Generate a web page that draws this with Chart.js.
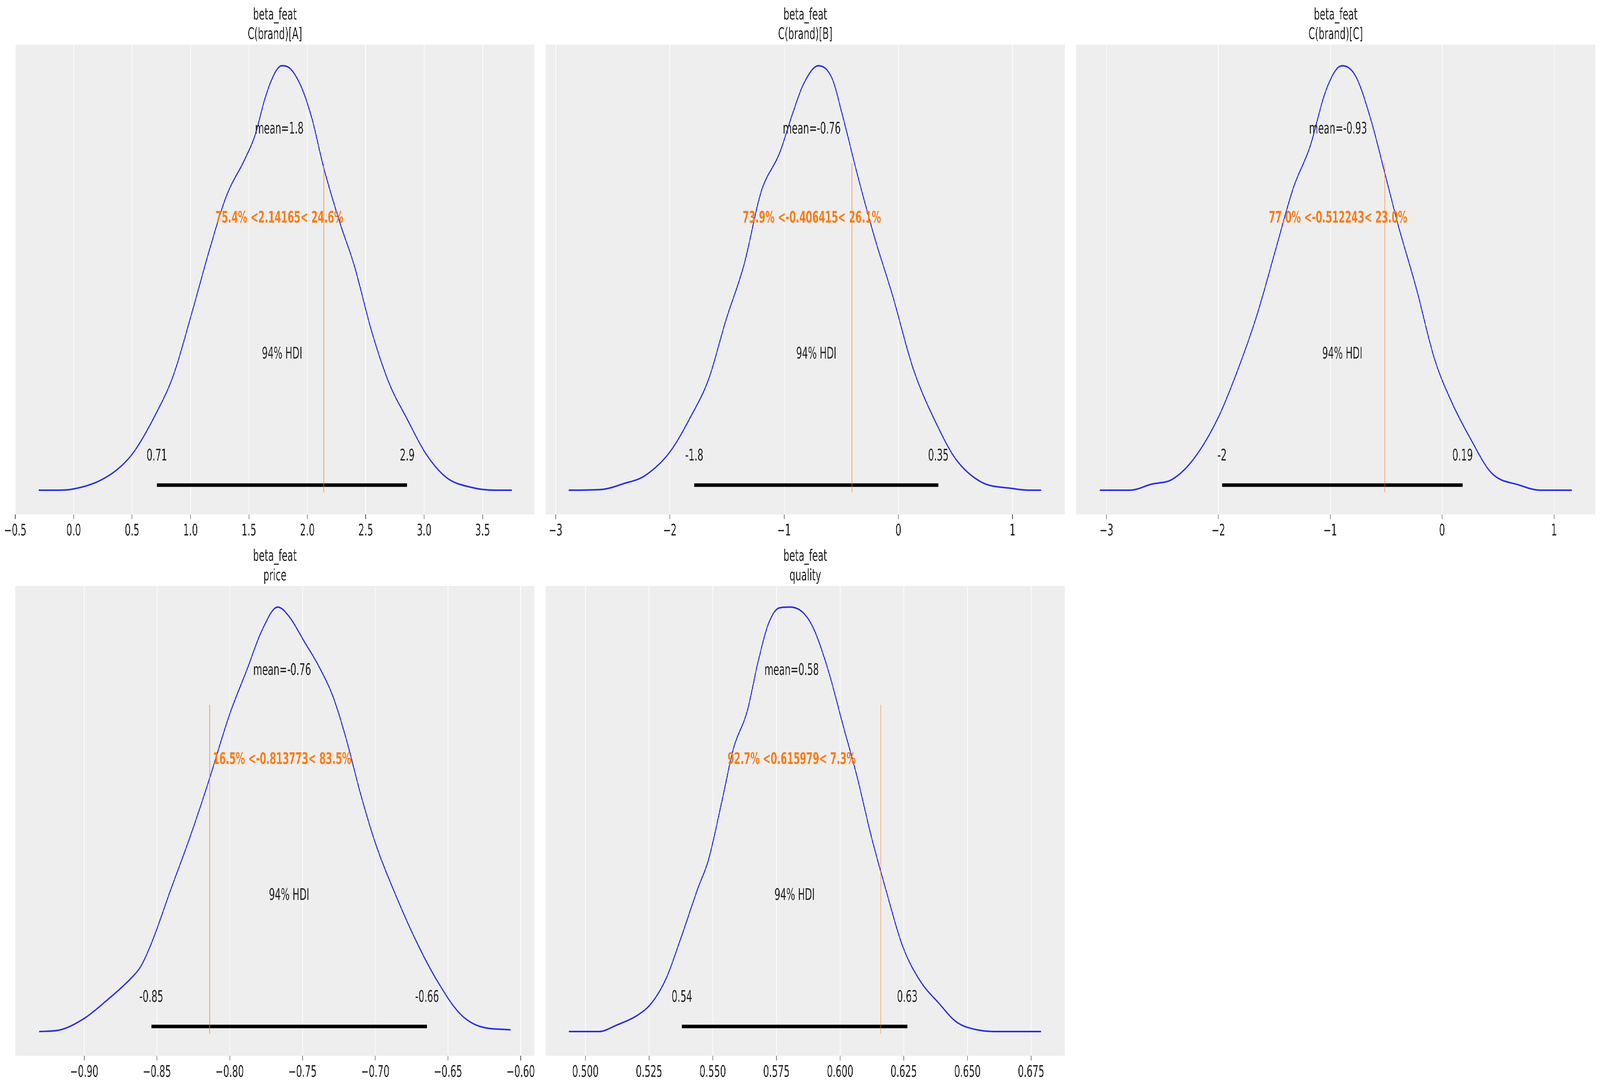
<!DOCTYPE html>
<html>
<head>
<meta charset="utf-8">
<script src="https://cdn.jsdelivr.net/npm/chart.js@4.4.1/dist/chart.umd.min.js"></script>
<style>
  html, body { margin: 0; background: #fff; overflow: hidden; }
  #fig { position: absolute; left: 0; top: 0; width: 6923px; height: 2783px; transform-origin: 0 0; }
  canvas { position: absolute; }
</style>
</head>
<body>
<div id="fig"></div>
<script>
// Panel titles
const varName = 'beta_feat';
const coords = ['C(brand)[A]', 'C(brand)[B]', 'C(brand)[C]', 'price', 'quality'];

// KDE curves (x value, relative density)
const kdeAx = [-0.30,-0.13,0.00,0.22,0.40,0.52,0.70,0.85,1.01,1.16,1.31,1.46,1.55,1.64,1.72,1.78,1.85,1.95,2.04,2.14,2.28,2.40,2.55,2.70,2.85,3.01,3.19,3.40,3.61,3.75];
const kdeAy = [0,0,0.003,0.022,0.055,0.092,0.178,0.268,0.416,0.564,0.695,0.777,0.834,0.925,0.982,1.0,0.994,0.949,0.875,0.760,0.629,0.531,0.375,0.252,0.170,0.088,0.030,0.007,0,0];
const kdeBx = [-2.885,-2.59,-2.41,-2.22,-2.0,-1.82,-1.66,-1.51,-1.35,-1.20,-1.04,-0.92,-0.83,-0.70,-0.58,-0.49,-0.36,-0.21,-0.05,0.13,0.35,0.50,0.72,1.0,1.15,1.25];
const kdeBy = [0,0.002,0.015,0.034,0.09,0.172,0.262,0.40,0.532,0.704,0.794,0.892,0.957,1.0,0.970,0.884,0.745,0.597,0.458,0.286,0.147,0.074,0.02,0.004,0,0];
const kdeCx = [-3.06,-2.79,-2.60,-2.41,-2.22,-2.0,-1.81,-1.65,-1.49,-1.33,-1.18,-1.05,-0.95,-0.89,-0.77,-0.64,-0.51,-0.39,-0.23,-0.07,0.09,0.25,0.44,0.69,0.88,1.01,1.16];
const kdeCy = [0,0,0.014,0.026,0.074,0.172,0.295,0.417,0.565,0.712,0.81,0.933,0.99,1.0,0.974,0.876,0.745,0.622,0.475,0.311,0.205,0.123,0.041,0.012,0,0,0];
const kdePx = [-0.931,-0.9165,-0.900,-0.885,-0.868,-0.861,-0.853,-0.841,-0.827,-0.815,-0.800,-0.788,-0.778,-0.767,-0.759,-0.749,-0.739,-0.729,-0.720,-0.710,-0.700,-0.686,-0.671,-0.657,-0.642,-0.628,-0.607];
const kdePy = [0,0.004,0.031,0.072,0.125,0.154,0.215,0.33,0.461,0.584,0.748,0.854,0.944,1.0,0.977,0.92,0.862,0.789,0.69,0.559,0.445,0.322,0.207,0.117,0.043,0.012,0.004];
const kdeQx = [0.4935,0.5053,0.5122,0.5206,0.5261,0.5317,0.5372,0.5442,0.5483,0.5539,0.5581,0.5636,0.5678,0.5719,0.5761,0.5803,0.5858,0.59,0.5956,0.6011,0.6067,0.6122,0.6178,0.6247,0.6317,0.6386,0.6456,0.6539,0.6636,0.6789];
const kdeQy = [0,0,0.015,0.039,0.068,0.125,0.215,0.338,0.404,0.551,0.666,0.756,0.871,0.961,0.998,1.0,0.985,0.944,0.846,0.723,0.6,0.461,0.338,0.199,0.117,0.068,0.023,0.004,0,0];

// Summary stats
const meanVals = [1.76, -0.758, -0.93, -0.764, 0.581];
const meanLabels = ['mean=1.8', 'mean=-0.76', 'mean=-0.93', 'mean=-0.76', 'mean=0.58'];
const hdiLow = [0.712, -1.786, -1.967, -0.8539, 0.5379];
const hdiHigh = [2.855, 0.35, 0.183, -0.6644, 0.6264];
const hdiLowLabels = ['0.71', '-1.8', '-2', '-0.85', '0.54'];
const hdiHighLabels = ['2.9', '0.35', '0.19', '-0.66', '0.63'];
const refVals = [2.14165, -0.406415, -0.512243, -0.813773, 0.615979];
const refLabels = ['75.4% <2.14165< 24.6%', '73.9% <-0.406415< 26.1%', '77.0% <-0.512243< 23.0%', '16.5% <-0.813773< 83.5%', '92.7% <0.615979< 7.3%'];

// Axis ticks
const xMins = [-0.5, -3.087, -3.272, -0.9474, 0.4844];
const xMaxs = [3.945, 1.458, 1.37, -0.5905, 0.6883];
const tickVals = [
  [-0.5,0,0.5,1,1.5,2,2.5,3,3.5],
  [-3,-2,-1,0,1],
  [-3,-2,-1,0,1],
  [-0.9,-0.85,-0.8,-0.75,-0.7,-0.65,-0.6],
  [0.5,0.525,0.55,0.575,0.6,0.625,0.65,0.675]
];
const tickDecimals = [1, 0, 0, 2, 3];

const kdeXs = [kdeAx, kdeBx, kdeCx, kdePx, kdeQx];
const kdeYs = [kdeAy, kdeBy, kdeCy, kdePy, kdeQy];

// layout (pixels, in the 6923x2783 figure)
const panelLefts = [66, 2361, 4656, 66, 2361];
const panelTops = [114, 114, 114, 1500, 1500];
const panelW = 2247;
const panelH = 1204;
const side = 70, topPad = 114;

const FONT = "'DejaVu Sans', sans-serif";
const yMin = -0.057, yMax = 1.05;

// fit the figure into whatever viewport we actually get
const fig = document.getElementById('fig');
const sx = Math.min(1, window.innerWidth / 6923), sy = Math.min(1, window.innerHeight / 2783);
if (sx < 1 || sy < 1) fig.style.transform = `scale(${sx}, ${sy})`;

const panelPlugin = {
  id: 'panelDeco',
  beforeDraw(chart) {
    const a = chart.chartArea, ctx = chart.ctx;
    ctx.save();
    ctx.fillStyle = '#eeeeee';
    ctx.fillRect(a.left, a.top, a.right - a.left, a.bottom - a.top);
    ctx.restore();
  },
  afterDatasetsDraw(chart) {
    const i = chart.options.plugins.panelDeco.idx;
    const ctx = chart.ctx, xs = chart.scales.x, ys = chart.scales.y;
    const a = chart.chartArea;
    ctx.save();
    ctx.textAlign = 'center';
    ctx.textBaseline = 'middle';
    ctx.fillStyle = '#222';
    ctx.font = `40px ${FONT}`;
    ctx.fillText(varName, (a.left + a.right) / 2, 40);
    ctx.fillText(coords[i], (a.left + a.right) / 2, 90);
    ctx.fillText(meanLabels[i], xs.getPixelForValue(meanVals[i]), ys.getPixelForValue(0.85));
    ctx.fillText('94% HDI', xs.getPixelForValue((hdiLow[i] + hdiHigh[i]) / 2), ys.getPixelForValue(0.32));
    ctx.fillText(hdiLowLabels[i], xs.getPixelForValue(hdiLow[i]), ys.getPixelForValue(0.08));
    ctx.fillText(hdiHighLabels[i], xs.getPixelForValue(hdiHigh[i]), ys.getPixelForValue(0.08));
    ctx.fillStyle = '#fa7c17';
    ctx.font = `bold 40px ${FONT}`;
    ctx.fillText(refLabels[i], xs.getPixelForValue(meanVals[i]), ys.getPixelForValue(0.64));
    ctx.restore();
  }
};

for (let i = 0; i < 5; i++) {
  const cv = document.createElement('canvas');
  const w = panelW + 2 * side, h = topPad + panelH + 75;
  cv.width = w; cv.height = h;
  cv.style.width = w + 'px'; cv.style.height = h + 'px';
  cv.style.left = (panelLefts[i] - side) + 'px';
  cv.style.top = (panelTops[i] - topPad) + 'px';
  fig.appendChild(cv);

  const curve = kdeXs[i].map((x, k) => ({ x: x, y: kdeYs[i][k] }));
  new Chart(cv.getContext('2d'), {
    type: 'line',
    data: {
      datasets: [
        { data: curve, borderColor: '#2a2eec', borderWidth: 4, pointRadius: 0, cubicInterpolationMode: 'monotone', order: 2 },
        { data: [{ x: hdiLow[i], y: 0.012 }, { x: hdiHigh[i], y: 0.012 }], borderColor: '#000', borderWidth: 9, pointRadius: 0, borderCapStyle: 'butt', order: 3 },
        { data: [{ x: refVals[i], y: -0.005 }, { x: refVals[i], y: 0.77 }], borderColor: 'rgba(250,124,23,0.7)', borderWidth: 3, pointRadius: 0, order: 1 }
      ]
    },
    options: {
      responsive: false,
      animation: false,
      devicePixelRatio: 1,
      layout: { padding: { left: side, right: side, top: topPad, bottom: 0 } },
      plugins: { legend: { display: false }, tooltip: { enabled: false }, panelDeco: { idx: i } },
      scales: {
        x: {
          type: 'linear', min: xMins[i], max: xMaxs[i],
          afterBuildTicks: s => { s.ticks = tickVals[i].map(v => ({ value: v })); },
          grid: { color: '#ffffff', lineWidth: 2.5, tickColor: '#333', tickLength: 12, tickWidth: 2 },
          border: { display: false },
          ticks: {
            color: '#222', font: { size: 40, family: FONT }, padding: 8, maxRotation: 0, autoSkip: false,
            callback: v => v.toFixed(tickDecimals[i]).replace('-', '\u2212')
          }
        },
        y: { display: false, min: yMin, max: yMax }
      }
    },
    plugins: [panelPlugin]
  });
}
</script>
</body>
</html>
